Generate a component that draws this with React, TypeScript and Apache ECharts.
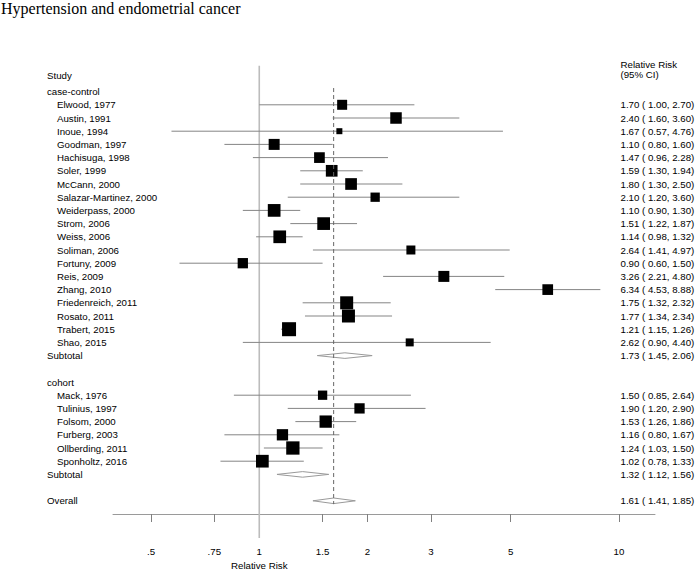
import React, { useEffect, useRef } from 'react';
import * as echarts from 'echarts';

// ---- data ----
const ccStudies = [
  'Elwood, 1977', 'Austin, 1991', 'Inoue, 1994', 'Goodman, 1997', 'Hachisuga, 1998',
  'Soler, 1999', 'McCann, 2000', 'Salazar-Martinez, 2000', 'Weiderpass, 2000', 'Strom, 2006',
  'Weiss, 2006', 'Soliman, 2006', 'Fortuny, 2009', 'Reis, 2009', 'Zhang, 2010',
  'Friedenreich, 2011', 'Rosato, 2011', 'Trabert, 2015', 'Shao, 2015',
];
const ccRR = [1.70, 2.40, 1.67, 1.10, 1.47, 1.59, 1.80, 2.10, 1.10, 1.51, 1.14, 2.64, 0.90, 3.26, 6.34, 1.75, 1.77, 1.21, 2.62];
const ccLo = [1.00, 1.60, 0.57, 0.80, 0.96, 1.30, 1.30, 1.20, 0.90, 1.22, 0.98, 1.41, 0.60, 2.21, 4.53, 1.32, 1.34, 1.15, 0.90];
const ccHi = [2.70, 3.60, 4.76, 1.60, 2.28, 1.94, 2.50, 3.60, 1.30, 1.87, 1.32, 4.97, 1.50, 4.80, 8.88, 2.32, 2.34, 1.26, 4.40];
const ccWeight = [10, 11.5, 6, 11, 10.7, 11.7, 11.7, 9.3, 12.7, 12.7, 12.7, 9, 10.3, 11, 10.7, 13, 13, 14, 8];

const coStudies = ['Mack, 1976', 'Tulinius, 1997', 'Folsom, 2000', 'Furberg, 2003', 'Ollberding, 2011', 'Sponholtz, 2016'];
const coRR = [1.50, 1.90, 1.53, 1.16, 1.24, 1.02];
const coLo = [0.85, 1.20, 1.26, 0.80, 1.03, 0.78];
const coHi = [2.64, 2.90, 1.86, 1.67, 1.50, 1.33];
const coWeight = [9.3, 10.3, 12.3, 11.3, 13.3, 12.7];

const subtotalLabels = ['Subtotal', 'Subtotal', 'Overall'];
const subtotalRR = [1.73, 1.32, 1.61];
const subtotalLo = [1.45, 1.12, 1.41];
const subtotalHi = [2.06, 1.56, 1.85];

const groupLabels = ['case-control', 'cohort'];
const tickValues = [0.5, 0.75, 1, 1.5, 2, 3, 5, 10];
const tickLabels = ['.5', '.75', '1', '1.5', '2', '3', '5', '10'];

const FONT = '"Liberation Sans", Arial, Helvetica, sans-serif';
const FS = 9.7;

const fmt = (r: number, l: number, h: number) => `${r.toFixed(2)} ( ${l.toFixed(2)}, ${h.toFixed(2)})`;

export default function App() {
  const ref = useRef<HTMLDivElement>(null);

  useEffect(() => {
    const chart = echarts.init(ref.current!, null, { renderer: 'svg' });

    // row layout
    const ccStart = 1;
    const ccSubRow = ccStart + ccStudies.length; // 20
    const coGroupRow = ccSubRow + 2; // 22
    const coStart = coGroupRow + 1; // 23
    const coSubRow = coStart + coStudies.length; // 29
    const overallRow = coSubRow + 2; // 31
    const subRows = [ccSubRow, coSubRow, overallRow];

    const studyData: number[][] = [];
    ccStudies.forEach((_, i) => studyData.push([ccStart + i, ccRR[i], ccLo[i], ccHi[i], ccWeight[i]]));
    coStudies.forEach((_, i) => studyData.push([coStart + i, coRR[i], coLo[i], coHi[i], coWeight[i]]));

    const diamondData = subtotalRR.map((r, i) => [subRows[i], r, subtotalLo[i], subtotalHi[i]]);

    type T = { row: number; text: string; x: number; align: string; onAxis?: boolean };
    const texts: T[] = [];
    texts.push({ row: -1.2, text: 'Study', x: 47, align: 'left' });
    texts.push({ row: -2.03, text: 'Relative Risk', x: 620.5, align: 'left' });
    texts.push({ row: -1.3, text: '(95% CI)', x: 620.5, align: 'left' });
    texts.push({ row: 0, text: groupLabels[0], x: 47, align: 'left' });
    ccStudies.forEach((s, i) => {
      texts.push({ row: ccStart + i, text: s, x: 57, align: 'left' });
      texts.push({ row: ccStart + i, text: fmt(ccRR[i], ccLo[i], ccHi[i]), x: 620.5, align: 'left' });
    });
    texts.push({ row: coGroupRow, text: groupLabels[1], x: 47, align: 'left' });
    coStudies.forEach((s, i) => {
      texts.push({ row: coStart + i, text: s, x: 57, align: 'left' });
      texts.push({ row: coStart + i, text: fmt(coRR[i], coLo[i], coHi[i]), x: 620.5, align: 'left' });
    });
    subtotalLabels.forEach((s, i) => {
      texts.push({ row: subRows[i], text: s, x: 47, align: 'left' });
      texts.push({ row: subRows[i], text: fmt(subtotalRR[i], subtotalLo[i], subtotalHi[i]), x: 620.5, align: 'left' });
    });
    texts.push({ row: 35.93, text: 'Relative Risk', x: 0, align: 'center', onAxis: true });

    const labelFor = (v: number) => {
      const idx = tickValues.findIndex((t) => Math.abs(t - v) < 1e-6 * Math.max(1, t));
      return idx >= 0 ? tickLabels[idx] : '';
    };

    chart.setOption({
      animation: false,
      backgroundColor: '#fff',
      title: {
        text: 'Hypertension and endometrial cancer',
        left: 1,
        top: 0,
        padding: 0,
        textStyle: {
          fontFamily: '"Liberation Serif", "Times New Roman", serif',
          fontSize: 16,
          fontWeight: 'normal',
          color: '#000',
        },
      },
      grid: { left: 113, right: 42, top: 58.6, height: 455.4, containLabel: false },
      xAxis: {
        type: 'log',
        logBase: 10,
        min: 0.392,
        max: 12.6,
        position: 'bottom',
        axisLine: { show: true, onZero: false, lineStyle: { color: '#9a9a9a', width: 1 } },
        axisTick: { show: true, customValues: tickValues, length: 8, lineStyle: { color: '#808080', width: 1 } },
        axisLabel: {
          show: true,
          customValues: tickValues,
          margin: 32,
          formatter: (v: number) => labelFor(v),
          fontFamily: FONT,
          fontSize: FS,
          color: '#000',
        },
        splitLine: { show: false },
        minorTick: { show: false },
        minorSplitLine: { show: false },
      },
      yAxis: { type: 'value', inverse: true, min: -2.5, max: 32, show: false },
      series: [
        {
          type: 'line',
          silent: true,
          clip: false,
          symbol: 'none',
          data: [[1, -1.96], [1, 33.82]],
          lineStyle: { color: '#bcbcbc', width: 1.6 },
          z: 1,
        },
        {
          type: 'custom',
          silent: true,
          clip: false,
          data: studyData,
          encode: { x: [1, 2, 3], y: 0 },
          z: 3,
          renderItem: (params: any, api: any) => {
            const row = api.value(0);
            const rr = api.value(1);
            const lo = api.value(2);
            const hi = api.value(3);
            const w = api.value(4);
            const pL = api.coord([lo, row]);
            const pH = api.coord([hi, row]);
            const pC = api.coord([rr, row]);
            return {
              type: 'group',
              children: [
                {
                  type: 'line',
                  shape: { x1: pL[0], y1: pL[1], x2: pH[0], y2: pH[1] },
                  style: { stroke: '#858585', lineWidth: 1 },
                },
                {
                  type: 'rect',
                  shape: { x: pC[0] - w / 2, y: pC[1] - w / 2, width: w, height: w },
                  style: { fill: '#000' },
                },
              ],
            };
          },
        },
        {
          type: 'custom',
          silent: true,
          clip: false,
          data: diamondData,
          encode: { x: [1, 2, 3], y: 0 },
          z: 3,
          renderItem: (params: any, api: any) => {
            const row = api.value(0);
            const pL = api.coord([api.value(2), row]);
            const pH = api.coord([api.value(3), row]);
            const pC = api.coord([api.value(1), row]);
            const hh = 2.8;
            return {
              type: 'polygon',
              shape: { points: [[pL[0], pL[1]], [pC[0], pC[1] - hh], [pH[0], pH[1]], [pC[0], pC[1] + hh]] },
              style: { fill: '#fff', stroke: '#9a9a9a', lineWidth: 1 },
            };
          },
        },
        {
          type: 'line',
          silent: true,
          clip: false,
          symbol: 'none',
          data: [[subtotalRR[2], -0.27], [subtotalRR[2], 31.25]],
          lineStyle: { color: '#666', width: 1, type: [4, 3] },
          z: 4,
        },
        {
          type: 'custom',
          silent: true,
          clip: false,
          data: texts.map((t) => [1, t.row]),
          encode: { x: 0, y: 1 },
          z: 5,
          renderItem: (params: any, api: any) => {
            const t = texts[params.dataIndex];
            const p = api.coord([1, t.row]);
            const x = t.onAxis ? p[0] : t.x;
            return {
              type: 'text',
              x,
              y: p[1],
              style: {
                text: t.text,
                fill: '#000',
                fontFamily: FONT,
                fontSize: FS,
                align: t.align,
                verticalAlign: 'middle',
                textAlign: t.align,
                textVerticalAlign: 'middle',
              },
            };
          },
        },
      ],
    });

    return () => chart.dispose();
  }, []);

  return <div ref={ref} style={{ position: 'absolute', left: 0, top: 0, width: 697, height: 572 }} />;
}
